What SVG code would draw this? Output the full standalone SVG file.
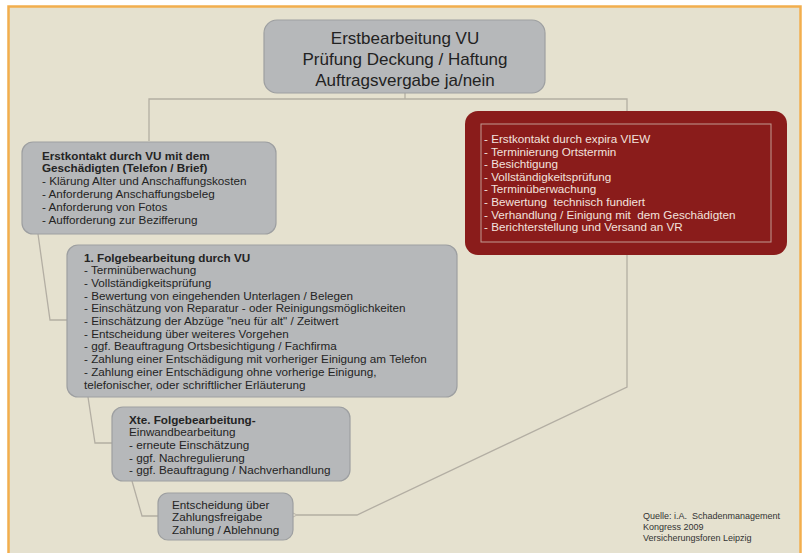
<svg xmlns="http://www.w3.org/2000/svg" width="804" height="553" viewBox="0 0 804 553">
<defs>
<style>
.box{fill:#B6B8BA;stroke:#9D9FA1;stroke-width:1.2}
.t{font-family:"Liberation Sans",Arial,sans-serif;font-size:11.7px;fill:#242424;white-space:pre}
.b{font-weight:bold}
.big{font-family:"Liberation Sans",Arial,sans-serif;font-size:17px;fill:#222;text-anchor:middle}
.w{font-family:"Liberation Sans",Arial,sans-serif;font-size:11.7px;fill:#F2E2DE;white-space:pre}
.src{font-family:"Liberation Sans",Arial,sans-serif;font-size:9px;fill:#333;white-space:pre}
.con{fill:none;stroke:#B3AEA3;stroke-width:1.3}
</style>
<marker id="arr" viewBox="0 0 10 10" refX="1" refY="5" markerWidth="7" markerHeight="7" orient="auto-start-reverse" markerUnits="userSpaceOnUse">
<path d="M9,1 L1,5 L9,9" fill="none" stroke="#B3AEA3" stroke-width="1.3"/>
</marker>
</defs>
<rect x="0" y="0" width="804" height="553" fill="#FFFFFF"/>
<rect x="8.5" y="6.5" width="792" height="560" fill="#E5E1CF" stroke="#F2AE4E" stroke-width="2.5"/>

<g id="connectors">
<path class="con" d="M405,93 V99 M149,141 V99 H627 V124"/>
<path class="con" d="M627,242 V387 L357,515 H297" marker-end="url(#arr)"/>
<path class="con" d="M38,234 L50,320 H67"/>
<path class="con" d="M88,397 L95,443 H112"/>
<path class="con" d="M132,481 L142,516 H158"/>
</g>

<g id="node-top">
<rect class="box" x="264" y="20" width="281" height="73" rx="13"/>
<text class="big" x="405" y="44">Erstbearbeitung VU</text>
<text class="big" x="405" y="65">Prüfung Deckung / Haftung</text>
<text class="big" x="405" y="86">Auftragsvergabe ja/nein</text>
</g>

<g id="node-erstkontakt">
<rect class="box" x="22" y="142" width="254" height="92" rx="11"/>
<text class="t b" x="42" y="159.5">Erstkontakt durch VU mit dem</text>
<text class="t b" x="42" y="172.3">Geschädigten (Telefon / Brief)</text>
<text class="t" x="42" y="185.1">- Klärung Alter und Anschaffungskosten</text>
<text class="t" x="42" y="197.9">- Anforderung Anschaffungsbeleg</text>
<text class="t" x="42" y="210.7">- Anforderung von Fotos</text>
<text class="t" x="42" y="223.5">- Aufforderung zur Bezifferung</text>
</g>

<g id="node-expira">
<rect x="465" y="111" width="322" height="144" rx="13" fill="#8A1C1B"/>
<rect x="481" y="124" width="290" height="118" fill="none" stroke="#C29A92" stroke-width="1"/>
<text class="w" x="484" y="143">- Erstkontakt durch expira VIEW</text>
<text class="w" x="484" y="155.6">- Terminierung Ortstermin</text>
<text class="w" x="484" y="168.2">- Besichtigung</text>
<text class="w" x="484" y="180.8">- Vollständigkeitsprüfung</text>
<text class="w" x="484" y="193.4">- Terminüberwachung</text>
<text class="w" x="484" y="206">- Bewertung  technisch fundiert</text>
<text class="w" x="484" y="218.6">- Verhandlung / Einigung mit  dem Geschädigten</text>
<text class="w" x="484" y="231.2">- Berichterstellung und Versand an VR</text>
</g>

<g id="node-folge1">
<rect class="box" x="67" y="245" width="390" height="152" rx="11"/>
<text class="t b" x="84" y="261.5">1. Folgebearbeitung durch VU</text>
<text class="t" x="84" y="274.2">- Terminüberwachung</text>
<text class="t" x="84" y="286.9">- Vollständigkeitsprüfung</text>
<text class="t" x="84" y="299.6">- Bewertung von eingehenden Unterlagen / Belegen</text>
<text class="t" x="84" y="312.3">- Einschätzung von Reparatur - oder Reinigungsmöglichkeiten</text>
<text class="t" x="84" y="325">- Einschätzung der Abzüge "neu für alt" / Zeitwert</text>
<text class="t" x="84" y="337.7">- Entscheidung über weiteres Vorgehen</text>
<text class="t" x="84" y="350.4">- ggf. Beauftragung Ortsbesichtigung / Fachfirma</text>
<text class="t" x="84" y="363.1">- Zahlung einer Entschädigung mit vorheriger Einigung am Telefon</text>
<text class="t" x="84" y="375.8">- Zahlung einer Entschädigung ohne vorherige Einigung,</text>
<text class="t" x="84" y="388.5">telefonischer, oder schriftlicher Erläuterung</text>
</g>

<g id="node-xte">
<rect class="box" x="112" y="407" width="238" height="74" rx="11"/>
<text class="t b" x="129" y="423.5">Xte. Folgebearbeitung-</text>
<text class="t" x="129" y="436.2">Einwandbearbeitung</text>
<text class="t" x="129" y="448.9">- erneute Einschätzung</text>
<text class="t" x="129" y="461.6">- ggf. Nachregulierung</text>
<text class="t" x="129" y="474.3">- ggf. Beauftragung / Nachverhandlung</text>
</g>

<g id="node-entscheidung">
<rect class="box" x="158" y="493" width="135" height="47" rx="10"/>
<text class="t" x="172" y="508.5">Entscheidung über</text>
<text class="t" x="172" y="521">Zahlungsfreigabe</text>
<text class="t" x="172" y="533.5">Zahlung / Ablehnung</text>
</g>

<g id="source">
<text class="src" x="643" y="519">Quelle: i.A.  Schadenmanagement</text>
<text class="src" x="643" y="530">Kongress 2009</text>
<text class="src" x="643" y="541">Versicherungsforen Leipzig</text>
</g>
</svg>
